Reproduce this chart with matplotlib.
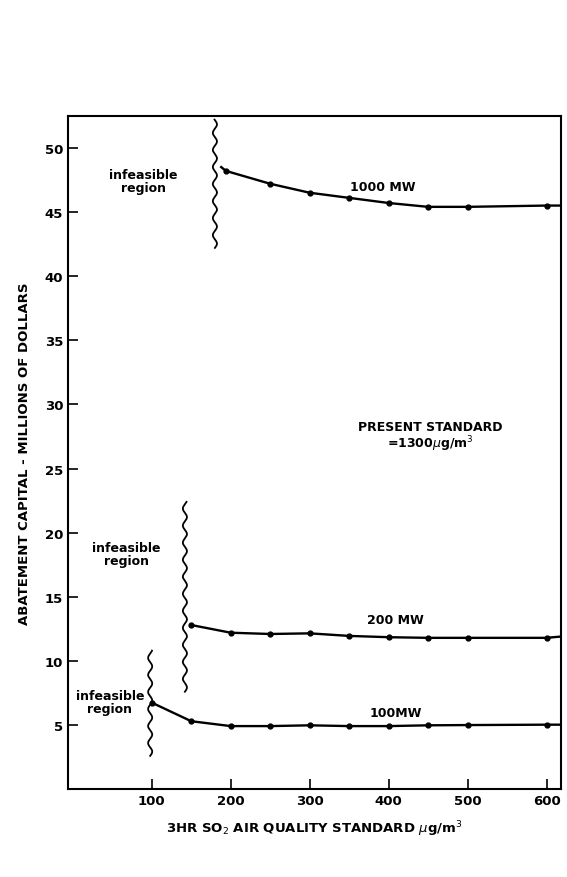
import numpy as np
import matplotlib.pyplot as plt

# data
x_1000 = [194, 250, 300, 350, 400, 450, 500, 600]
y_1000 = [48.2, 47.2, 46.5, 46.1, 45.7, 45.4, 45.4, 45.5]

x_200 = [150, 200, 250, 300, 350, 400, 450, 500, 600]
y_200 = [12.8, 12.2, 12.1, 12.15, 11.95, 11.85, 11.8, 11.8, 11.8]

x_100 = [100, 150, 200, 250, 300, 350, 400, 450, 500, 600]
y_100 = [6.75, 5.3, 4.92, 4.92, 4.98, 4.92, 4.92, 4.98, 5.0, 5.03]

x_ticks = [100, 200, 300, 400, 500, 600]
y_ticks = [5, 10, 15, 20, 25, 30, 35, 40, 45, 50]

plt.rcParams['font.family'] = ['DejaVu Sans']

fig = plt.figure(figsize=(5.67, 8.78), dpi=100)
ax = fig.add_axes([0.12, 0.1, 0.869, 0.767])

kw = dict(color='black', lw=1.7, marker='o', ms=3.5)
ax.plot([188] + x_1000 + [618], [48.5] + y_1000 + [45.5], markevery=list(range(1, 9)), **kw)
ax.plot(x_200 + [618], y_200 + [11.9], markevery=list(range(9)), **kw)
ax.plot(x_100 + [618], y_100 + [5.03], markevery=list(range(10)), **kw)


def squiggle(x0, y_lo, y_hi):
    # wavy boundary mark, about 17 px per wave
    t = np.linspace(y_lo, y_hi, 300)
    n = (y_hi - y_lo) * 12.8 / 17.0
    xs = x0 + 2.6 * np.sin(2 * np.pi * n * (t - y_lo) / (y_hi - y_lo))
    ax.plot(xs, t, color='black', lw=1.3)


squiggle(180, 42.2, 52.2)
squiggle(142, 7.6, 22.4)
squiggle(98, 2.6, 10.8)

tk = dict(ha='center', va='center', fontsize=9, fontweight='bold', linespacing=1.0)
ax.text(89, 47.4, 'infeasible\nregion', **tk)
ax.text(68, 18.3, 'infeasible\nregion', **tk)
ax.text(47, 6.8, 'infeasible\nregion', **tk)
ax.text(392, 47.0, '1000 MW', **tk)
ax.text(409, 13.2, '200 MW', **tk)
ax.text(409, 6.0, '100MW', **tk)
ax.text(453, 27.5, 'PRESENT STANDARD\n=1300$\\mu$g/m$^3$', **tk)

ax.set_xlim(-6, 618)
ax.set_ylim(0, 52.5)
ax.set_xticks(x_ticks)
ax.set_yticks(y_ticks)
ax.tick_params(direction='in', length=7, width=1.2, labelsize=9.5)
for lab in ax.get_xticklabels() + ax.get_yticklabels():
    lab.set_fontweight('bold')
for s in ax.spines.values():
    s.set_linewidth(1.5)

ax.set_xlabel('3HR SO$_2$ AIR QUALITY STANDARD $\\mu$g/m$^3$', fontsize=9.5,
              fontweight='bold', labelpad=8)
ax.set_ylabel('ABATEMENT CAPITAL - MILLIONS OF DOLLARS', fontsize=9.5,
              fontweight='bold', labelpad=10)

fig.savefig('out.png', dpi=100)
